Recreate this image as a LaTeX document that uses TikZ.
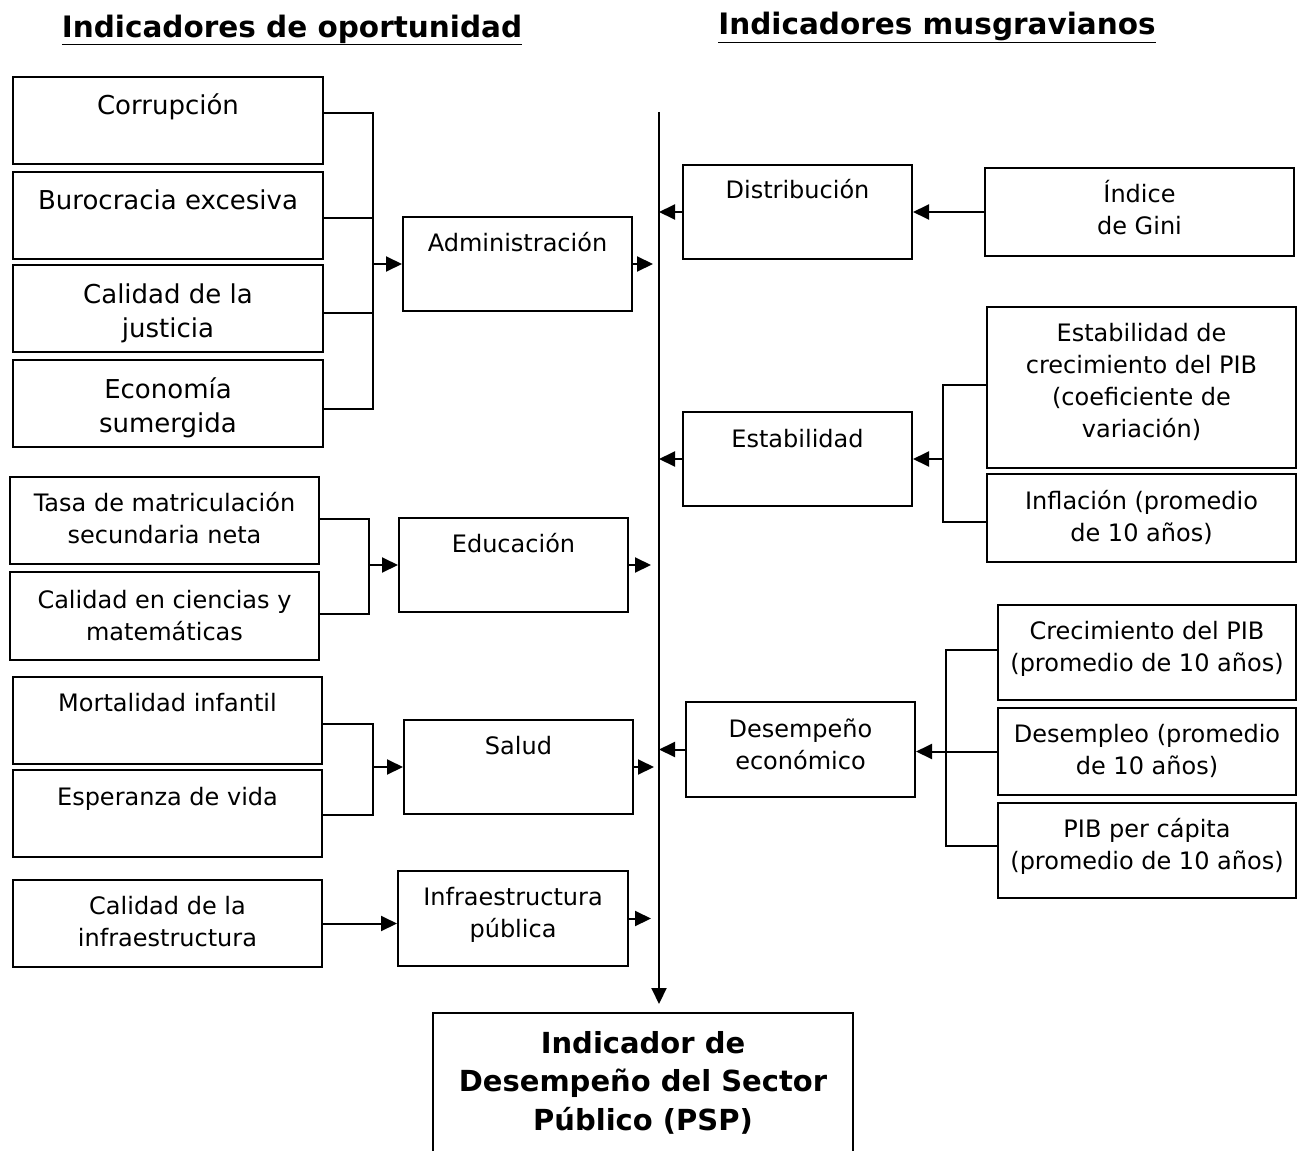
\documentclass[tikz,border=0pt]{standalone}
\usepackage{fontspec}
\setmainfont{DejaVu Sans}
\usetikzlibrary{arrows.meta}
\tikzset{
 ln/.style={line width=2pt},
 arr/.style={line width=2pt, -{Triangle[length=16pt,width=15pt]}},
 box/.style={draw, line width=2pt, inner sep=0pt},
 tA/.style={font=\fontsize{26}{34}\selectfont, align=center, anchor=north, inner sep=0pt},
 tB/.style={font=\fontsize{24}{32}\selectfont, align=center, anchor=north, inner sep=0pt},
 tC/.style={font=\fontsize{29}{38.5}\selectfont\bfseries, align=center, anchor=north, inner sep=0pt},
 ttl/.style={font=\fontsize{29.5}{34}\selectfont\bfseries, inner sep=0pt},
}
\newcommand\mybox[8]{%
 \node[box, minimum width={#4-#2}, minimum height={#5-#3}] (#1) at ({(#2+#4)/2},{(#3+#5)/2}) {};
 \node[#6] (#1t) at ({(#2+#4)/2},#7) {\strut #8};
}
\begin{document}
\begin{tikzpicture}[x=1pt,y=-1pt]
\fill[white] (0,0) rectangle (1297,1150);
\useasboundingbox (0,0) rectangle (1297,1150);

% titles
\node[ttl] (title1) at (292,30) {\underline{Indicadores de oportunidad}};
\node[ttl] (title2) at (937,27) {\underline{Indicadores musgravianos}};

% left column
\mybox{cor}{13}{77}{323}{164}{tA}{90.6}{Corrupción}
\mybox{bur}{13}{172}{323}{259}{tA}{186}{Burocracia excesiva}
\mybox{jus}{13}{265}{323}{352}{tA}{279}{Calidad de la\\justicia}
\mybox{eco}{13}{360}{323}{447}{tA}{374}{Economía\\sumergida}
\mybox{adm}{403}{217}{632}{311}{tB}{229}{Administración}

\mybox{tasa}{10}{477}{319}{564}{tB}{489}{Tasa de matriculación\\secundaria neta}
\mybox{cal}{10}{572}{319}{660}{tB}{586}{Calidad en ciencias y\\matemáticas}
\mybox{edu}{399}{518}{628}{612}{tB}{530}{Educación}

\mybox{mort}{13}{677}{322}{764}{tB}{689}{Mortalidad infantil}
\mybox{esp}{13}{770}{322}{857}{tB}{783}{Esperanza de vida}
\mybox{sal}{404}{720}{633}{814}{tB}{732}{Salud}

\mybox{calinf}{13}{880}{322}{967}{tB}{892}{Calidad de la\\infraestructura}
\mybox{inf}{398}{871}{628}{966}{tB}{883}{Infraestructura\\pública}

% right column
\mybox{dist}{683}{165}{912}{259}{tB}{176}{Distribución}
\mybox{gini}{985}{168}{1294}{256}{tB}{180}{Índice\\de Gini}
\mybox{estab}{683}{412}{912}{506}{tB}{425}{Estabilidad}
\mybox{estcre}{987}{307}{1296}{468}{tB}{319}{Estabilidad de\\crecimiento del PIB\\(coeficiente de\\variación)}
\mybox{infl}{987}{474}{1296}{562}{tB}{487}{Inflación (promedio\\de 10 años)}
\mybox{desec}{686}{702}{915}{797}{tB}{715}{Desempeño\\económico}
\mybox{crec}{998}{605}{1296}{700}{tB}{617}{Crecimiento del PIB\\(promedio de 10 años)}
\mybox{desem}{998}{708}{1296}{795}{tB}{720}{Desempleo (promedio\\de 10 años)}
\mybox{pibpc}{998}{803}{1296}{898}{tB}{815}{PIB per cápita\\(promedio de 10 años)}

% final box
\mybox{psp}{433}{1013}{853}{1170}{tC}{1026}{Indicador de\\Desempeño del Sector\\Público (PSP)}

% central line
\coordinate (ctop) at (659,112);
\draw[arr, shorten >=8pt] (ctop) -- (ctop |- psp.north);

% administracion bracket
\coordinate (a1) at (373,113);
\coordinate (a2) at (373,218);
\coordinate (a3) at (373,313);
\coordinate (a4) at (373,409);
\draw[ln] (cor.east |- a1) -- (a1) -- (a4) -- (eco.east |- a4);
\draw[ln] (bur.east |- a2) -- (a2);
\draw[ln] (jus.east |- a3) -- (a3);
\draw[arr] (a1 |- adm.west) -- (adm.west);
\draw[arr, shorten >=6pt] (adm.east) -- (adm.east -| ctop);

% educacion bracket
\coordinate (e1) at (369,519);
\coordinate (e2) at (369,614);
\draw[ln] (tasa.east |- e1) -- (e1) -- (e2) -- (cal.east |- e2);
\draw[arr] (e1 |- edu.west) -- (edu.west);
\draw[arr, shorten >=8pt] (edu.east) -- (edu.east -| ctop);

% salud bracket
\coordinate (s1) at (373,724);
\coordinate (s2) at (373,815);
\draw[ln] (mort.east |- s1) -- (s1) -- (s2) -- (esp.east |- s2);
\draw[arr] (s1 |- sal.west) -- (sal.west);
\draw[arr, shorten >=5pt] (sal.east) -- (sal.east -| ctop);

% infraestructura
\draw[arr] (calinf.east) -- (calinf.east -| inf.west);
\draw[arr, shorten >=8pt] (inf.east) -- (inf.east -| ctop);

% right side
\draw[arr] (gini.west) -- (gini.west -| dist.east);
\draw[arr] (dist.west) -- (dist.west -| ctop);

\coordinate (r1) at (943,385);
\coordinate (r2) at (943,522);
\draw[ln] (estcre.west |- r1) -- (r1) -- (r2) -- (infl.west |- r2);
\draw[arr] (r1 |- estab.east) -- (estab.east);
\draw[arr] (estab.west) -- (estab.west -| ctop);

\coordinate (d1) at (946,650);
\coordinate (d2) at (946,846);
\draw[ln] (crec.west |- d1) -- (d1) -- (d2) -- (pibpc.west |- d2);
\draw[arr] (desem.west) -- (desem.west -| desec.east);
\draw[arr] (desec.west) -- (desec.west -| ctop);
\end{tikzpicture}
\end{document}
